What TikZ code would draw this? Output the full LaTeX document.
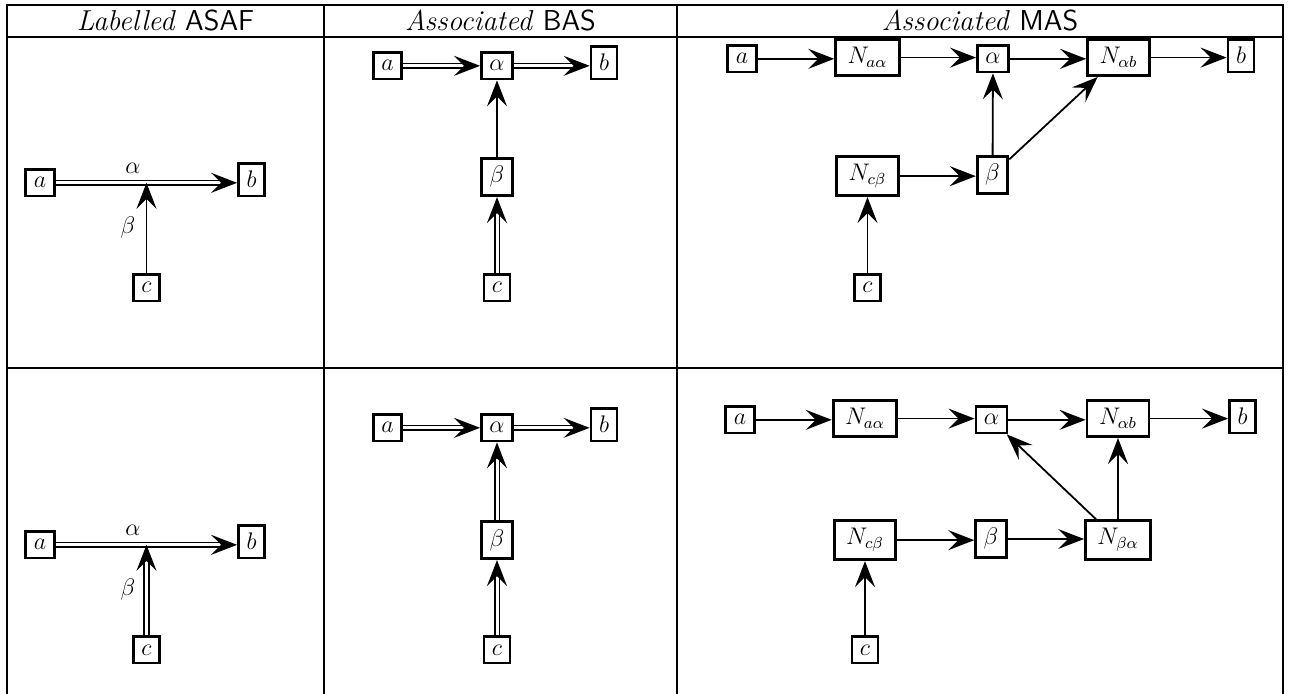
\documentclass[tikz,border=0pt]{standalone}
\usetikzlibrary{arrows.meta}
\tikzset{
  box/.style={draw, line width=1.4pt, inner sep=4pt, anchor=base, font=\large},
  nbox/.style={box, inner xsep=6pt},
  lab/.style={inner sep=1pt, font=\large},
  arr/.style={line width=0.9pt, -{Stealth[length=13pt,width=10pt,inset=5pt]}},
  dbl/.style={arr, double, line width=0.8pt, double distance=1.5pt},
  rule/.style={line width=1.2pt}
}
\begin{document}
\begin{tikzpicture}[x=0.5pt,y=-0.5pt]
\useasboundingbox (0,0) rectangle (1295,694);
% table
\draw[rule] (7,694)--(7,5)--(1283,5)--(1283,694);
\draw[rule] (7,37)--(1283,37);
\draw[rule] (7,368)--(1283,368);
\draw[rule] (324,5)--(324,694);
\draw[rule] (677,5)--(677,694);
\node (h1) at (165.5,21) {\Large\textit{Labelled} \textsf{ASAF}};
\node (h2) at (500.5,21) {\Large\textit{Associated} \textsf{BAS}};
\node (h3) at (980,21) {\Large\textit{Associated} \textsf{MAS}};
% labelled ASAF, top
\node[box] (a1) at (40,188) {$a$};
\node[box] (b1) at (251.5,188) {$b$};
\node[box] (c1) at (146.5,293) {$c$};
\coordinate (j1) at (c1 |- a1);
\draw[dbl] (a1) -- (a1 -| b1.west);
\draw[arr] (c1) -- (j1);
\node[lab] (al1) at (133,168) {$\alpha$};
\node[lab] (be1) at (128,228) {$\beta$};
% labelled ASAF, bottom
\node[box] (a4) at (40,550) {$a$};
\node[box] (b4) at (251.5,550) {$b$};
\node[box] (c4) at (146.5,655) {$c$};
\coordinate (j4) at (c4 |- a4);
\draw[dbl] (a4) -- (a4 -| b4.west);
\draw[dbl] (c4) -- (j4);
\node[lab] (al4) at (133,530) {$\alpha$};
\node[lab] (be4) at (128,590) {$\beta$};
% BAS, top
\node[box] (a2) at (387.5,71) {$a$};
\node[box] (al2) at (497,71) {$\alpha$};
\node[box] (b2) at (604,71) {$b$};
\node[box] (be2) at (497,183) {$\beta$};
\node[box] (c2) at (497,293) {$c$};
\draw[dbl] (a2) -- (a2 -| al2.west);
\draw[dbl] (al2) -- (al2 -| b2.west);
\draw[arr] (be2) -- (al2);
\draw[dbl] (c2) -- (be2);
% BAS, bottom
\node[box] (a5) at (387.5,433) {$a$};
\node[box] (al5) at (497,433) {$\alpha$};
\node[box] (b5) at (604,433) {$b$};
\node[box] (be5) at (497,546) {$\beta$};
\node[box] (c5) at (497,655) {$c$};
\draw[dbl] (a5) -- (a5 -| al5.west);
\draw[dbl] (al5) -- (al5 -| b5.west);
\draw[dbl] (be5) -- (al5);
\draw[dbl] (c5) -- (be5);
% MAS, top
\node[box] (a3) at (742,64) {$a$};
\node[nbox] (naa3) at (867.5,64) {$N_{a\alpha}$};
\node[box] (al3) at (993,64) {$\alpha$};
\node[nbox] (nab3) at (1118.5,64) {$N_{\alpha b}$};
\node[box] (b3) at (1241,64) {$b$};
\node[nbox] (ncb3) at (867.5,181) {$N_{c\beta}$};
\node[box] (be3) at (992.5,181) {$\beta$};
\node[box] (c3) at (867.5,293) {$c$};
\draw[arr] (a3) -- (a3 -| naa3.west);
\draw[arr] (naa3) -- (naa3 -| al3.west);
\draw[arr] (al3) -- (al3 -| nab3.west);
\draw[arr] (nab3) -- (nab3 -| b3.west);
\draw[arr] (ncb3) -- (ncb3 -| be3.west);
\draw[arr] (be3) -- (al3);
\draw[arr] (be3) -- (nab3);
\draw[arr] (c3) -- (ncb3);
% MAS, bottom
\node[box] (a6) at (740,425) {$a$};
\node[nbox] (naa6) at (865,425) {$N_{a\alpha}$};
\node[box] (al6) at (991.5,425) {$\alpha$};
\node[nbox] (nab6) at (1118,425) {$N_{\alpha b}$};
\node[box] (b6) at (1242.5,425) {$b$};
\node[nbox] (ncb6) at (865,545) {$N_{c\beta}$};
\node[box] (be6) at (991,545) {$\beta$};
\node[nbox] (nba6) at (1118,545) {$N_{\beta\alpha}$};
\node[box] (c6) at (865,655) {$c$};
\draw[arr] (a6) -- (a6 -| naa6.west);
\draw[arr] (naa6) -- (naa6 -| al6.west);
\draw[arr] (al6) -- (al6 -| nab6.west);
\draw[arr] (nab6) -- (nab6 -| b6.west);
\draw[arr] (ncb6) -- (ncb6 -| be6.west);
\draw[arr] (be6) -- (be6 -| nba6.west);
\draw[arr] (nba6) -- (nab6);
\draw[arr] (nba6) -- (al6);
\draw[arr] (c6) -- (ncb6);
\end{tikzpicture}
\end{document}
